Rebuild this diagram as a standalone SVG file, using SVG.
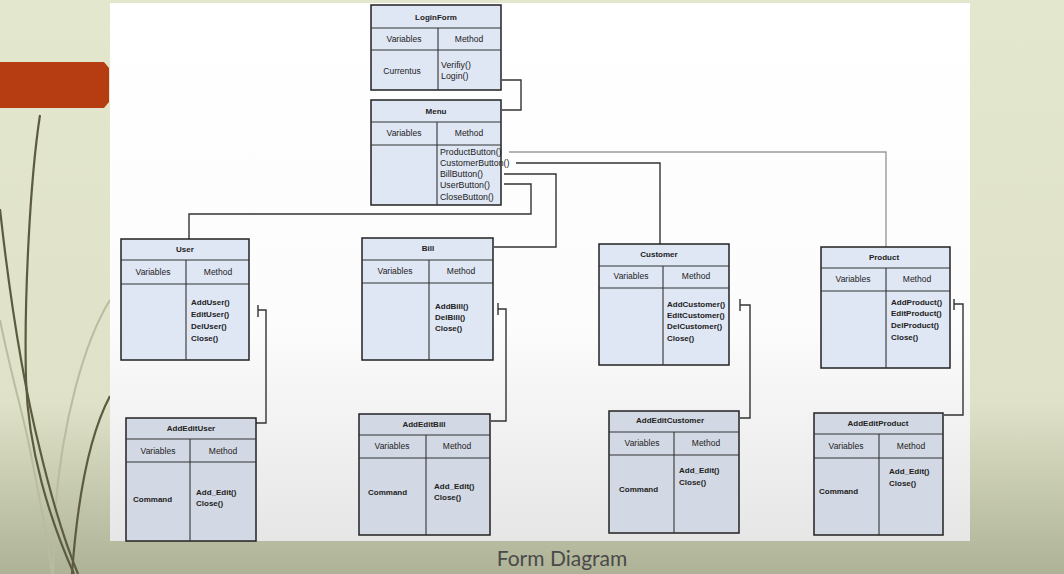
<svg xmlns="http://www.w3.org/2000/svg" width="1064" height="574" viewBox="0 0 1064 574">
<defs>
<linearGradient id="bg" x1="0" y1="0" x2="0" y2="1">
<stop offset="0" stop-color="#e3e7cd"/>
<stop offset="0.7" stop-color="#dfe2c8"/>
<stop offset="1" stop-color="#aeb296"/>
</linearGradient>
<linearGradient id="panel" x1="0" y1="0" x2="0" y2="1">
<stop offset="0" stop-color="#ffffff"/>
<stop offset="0.6" stop-color="#fcfcfc"/>
<stop offset="1" stop-color="#e6e6e6"/>
</linearGradient>
<style>
.box{fill:#dfe6f4;stroke:#222;stroke-width:1.5}
.box2{fill:#d3d9e4;stroke:#222;stroke-width:1.5}
.sep{stroke:#333;stroke-width:1.1}
.t{font-family:"Liberation Sans",Arial,sans-serif;font-size:8.5px;fill:#222}
.tb{font-family:"Liberation Sans",Arial,sans-serif;font-size:8px;font-weight:bold;fill:#222}
.m{font-family:"Liberation Sans",Arial,sans-serif;font-size:8px;font-weight:bold;fill:#222}
.mm{font-family:"Liberation Sans",Arial,sans-serif;font-size:8.8px;fill:#222}
.c{text-anchor:middle}
.conn{fill:none;stroke:#333;stroke-width:1.4}
.connl{fill:none;stroke:#9a9a9a;stroke-width:1.4}
.deco{fill:none;stroke:#5c5b40;stroke-width:2.2}
.decol{fill:none;stroke:#b9bca0;stroke-width:2}
</style>
</defs>
<rect x="0" y="0" width="1064" height="574" fill="url(#bg)"/>
<g id="decoration">
<path class="decol" d="M110,300 C85,340 62,420 55,513 L53,574"/>
<path class="decol" d="M0,320 C12,380 25,420 32,460 C40,500 48,540 52,574"/>
<path class="deco" d="M40,115 C30,180 24,300 26,380 C28,450 50,520 74,574" stroke-width="1.6"/>
<path class="deco" d="M0,209 C10,300 25,390 40,450 C52,500 66,545 78,574"/>
<path class="deco" d="M110,396 C92,430 78,490 72,574"/>
<path d="M0,62 L104,62 L109,68 L109,102 L104,108 L0,108 Z" fill="#b63c12"/>
</g>
<rect x="110" y="3" width="860" height="538" fill="url(#panel)"/>
<text x="562" y="566" font-family="Lato,'Open Sans',sans-serif" font-size="21" fill="#4a4a4a" text-anchor="middle">Form Diagram</text>

<g id="connectors">
<path class="conn" d="M502,80 H521 V110 H502"/>
<path class="connl" d="M509,152 H886 V247"/>
<path class="conn" d="M516,163 H660 V244"/>
<path class="conn" d="M504,174 H556 V247 H494"/>
<path class="conn" d="M504,184 H531 V214 H189 V239"/>
<path class="conn" d="M258,305 V317 M258,310 H266 V423 H256"/>
<path class="conn" d="M498,303 V315 M498,309 H506 V421 H491"/>
<path class="conn" d="M740,299 V311 M740,305 H750 V418 H740"/>
<path class="conn" d="M954,299 V310 M954,304 H963 V415 H944"/>
</g>

<g id="LoginForm">
<rect class="box" x="371" y="5" width="130" height="85"/>
<line class="sep" x1="371" y1="28" x2="501" y2="28"/>
<line class="sep" x1="371" y1="50" x2="501" y2="50"/>
<line class="sep" x1="438" y1="28" x2="438" y2="90"/>
<text class="tb c" x="436" y="20">LoginForm</text>
<text class="t c" x="404" y="42">Variables</text>
<text class="t c" x="469" y="42">Method</text>
<text class="t c" x="402" y="74">Currentus</text>
<text class="mm" x="441" y="68">Verifiy()</text>
<text class="mm" x="441" y="79">Login()</text>
</g>

<g id="Menu">
<rect class="box" x="371" y="100" width="130" height="105"/>
<line class="sep" x1="371" y1="122" x2="501" y2="122"/>
<line class="sep" x1="371" y1="145" x2="501" y2="145"/>
<line class="sep" x1="437" y1="122" x2="437" y2="205"/>
<text class="tb c" x="436" y="114">Menu</text>
<text class="t c" x="404" y="136">Variables</text>
<text class="t c" x="469" y="136">Method</text>
<text class="mm" x="440" y="155">ProductButton()</text>
<text class="mm" x="440" y="166">CustomerButton()</text>
<text class="mm" x="440" y="177">BillButton()</text>
<text class="mm" x="440" y="188">UserButton()</text>
<text class="mm" x="440" y="200">CloseButton()</text>
</g>

<g id="User">
<rect class="box" x="121" y="239" width="128" height="121"/>
<line class="sep" x1="121" y1="260" x2="249" y2="260"/>
<line class="sep" x1="121" y1="284" x2="249" y2="284"/>
<line class="sep" x1="186" y1="260" x2="186" y2="360"/>
<text class="tb c" x="185" y="252">User</text>
<text class="t c" x="153" y="275">Variables</text>
<text class="t c" x="218" y="275">Method</text>
<text class="m" x="191" y="305">AddUser()</text>
<text class="m" x="191" y="317">EditUser()</text>
<text class="m" x="191" y="329">DelUser()</text>
<text class="m" x="191" y="341">Close()</text>
</g>

<g id="Bill">
<rect class="box" x="362" y="238" width="131" height="122"/>
<line class="sep" x1="362" y1="260" x2="493" y2="260"/>
<line class="sep" x1="362" y1="283" x2="493" y2="283"/>
<line class="sep" x1="429" y1="260" x2="429" y2="360"/>
<text class="tb c" x="428" y="251">Bill</text>
<text class="t c" x="395" y="274">Variables</text>
<text class="t c" x="461" y="274">Method</text>
<text class="m" x="435" y="309">AddBill()</text>
<text class="m" x="435" y="320">DelBill()</text>
<text class="m" x="435" y="331">Close()</text>
</g>

<g id="Customer">
<rect class="box" x="599" y="244" width="130" height="121"/>
<line class="sep" x1="599" y1="266" x2="729" y2="266"/>
<line class="sep" x1="599" y1="288" x2="729" y2="288"/>
<line class="sep" x1="663" y1="266" x2="663" y2="365"/>
<text class="tb c" x="659" y="257">Customer</text>
<text class="t c" x="631" y="279">Variables</text>
<text class="t c" x="696" y="279">Method</text>
<text class="m" x="667" y="307">AddCustomer()</text>
<text class="m" x="667" y="318">EditCustomer()</text>
<text class="m" x="667" y="329">DelCustomer()</text>
<text class="m" x="667" y="341">Close()</text>
</g>

<g id="Product">
<rect class="box" x="821" y="247" width="129" height="121"/>
<line class="sep" x1="821" y1="268" x2="950" y2="268"/>
<line class="sep" x1="821" y1="291" x2="950" y2="291"/>
<line class="sep" x1="886" y1="268" x2="886" y2="368"/>
<text class="tb c" x="884" y="260">Product</text>
<text class="t c" x="853" y="282">Variables</text>
<text class="t c" x="917" y="282">Method</text>
<text class="m" x="891" y="305">AddProduct()</text>
<text class="m" x="891" y="316">EditProduct()</text>
<text class="m" x="891" y="328">DelProduct()</text>
<text class="m" x="891" y="340">Close()</text>
</g>

<g id="AddEditUser">
<rect class="box2" x="126" y="418" width="130" height="123"/>
<line class="sep" x1="126" y1="439" x2="256" y2="439"/>
<line class="sep" x1="126" y1="462" x2="256" y2="462"/>
<line class="sep" x1="190" y1="439" x2="190" y2="541"/>
<text class="tb c" x="191" y="431">AddEditUser</text>
<text class="t c" x="158" y="454">Variables</text>
<text class="t c" x="223" y="454">Method</text>
<text class="m" x="133" y="502">Command</text>
<text class="m" x="196" y="495">Add_Edit()</text>
<text class="m" x="196" y="506">Close()</text>
</g>

<g id="AddEditBill">
<rect class="box2" x="359" y="414" width="131" height="121"/>
<line class="sep" x1="359" y1="435" x2="490" y2="435"/>
<line class="sep" x1="359" y1="458" x2="490" y2="458"/>
<line class="sep" x1="426" y1="435" x2="426" y2="535"/>
<text class="tb c" x="424" y="427">AddEditBill</text>
<text class="t c" x="392" y="449">Variables</text>
<text class="t c" x="457" y="449">Method</text>
<text class="m" x="368" y="495">Command</text>
<text class="m" x="434" y="489">Add_Edit()</text>
<text class="m" x="434" y="500">Close()</text>
</g>

<g id="AddEditCustomer">
<rect class="box2" x="609" y="411" width="130" height="122"/>
<line class="sep" x1="609" y1="432" x2="739" y2="432"/>
<line class="sep" x1="609" y1="455" x2="739" y2="455"/>
<line class="sep" x1="674" y1="432" x2="674" y2="533"/>
<text class="tb c" x="670" y="423">AddEditCustomer</text>
<text class="t c" x="642" y="446">Variables</text>
<text class="t c" x="706" y="446">Method</text>
<text class="m" x="619" y="492">Command</text>
<text class="m" x="679" y="473">Add_Edit()</text>
<text class="m" x="679" y="485">Close()</text>
</g>

<g id="AddEditProduct">
<rect class="box2" x="814" y="413" width="129" height="122"/>
<line class="sep" x1="814" y1="434" x2="943" y2="434"/>
<line class="sep" x1="814" y1="458" x2="943" y2="458"/>
<line class="sep" x1="879" y1="434" x2="879" y2="535"/>
<text class="tb c" x="878" y="426">AddEditProduct</text>
<text class="t c" x="846" y="449">Variables</text>
<text class="t c" x="911" y="449">Method</text>
<text class="m" x="819" y="494">Command</text>
<text class="m" x="889" y="474">Add_Edit()</text>
<text class="m" x="889" y="486">Close()</text>
</g>
</svg>
